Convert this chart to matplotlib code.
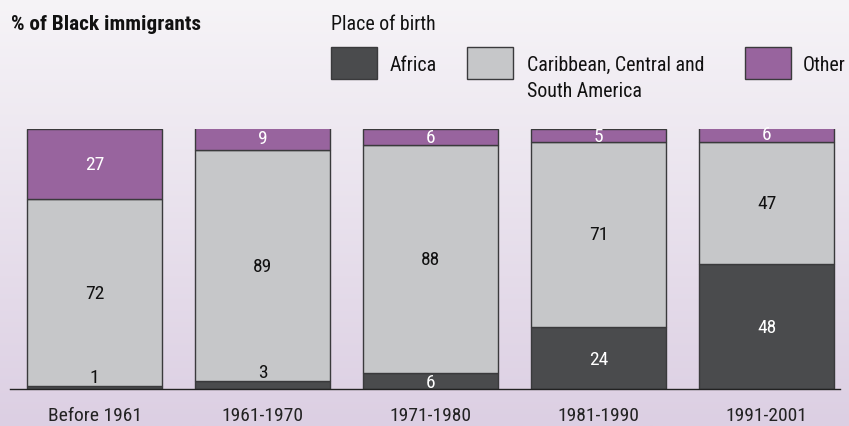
import matplotlib
matplotlib.use("Agg")
import matplotlib.pyplot as plt
import numpy as np
from matplotlib.patches import Rectangle

plt.rcParams['font.family'] = ['Roboto Condensed', 'Archivo Narrow', 'Liberation Sans Narrow', 'Roboto', 'DejaVu Sans']

categories = ["Before 1961", "1961-1970", "1971-1980", "1981-1990", "1991-2001"]
africa = [1, 3, 6, 24, 48]
caribbean = [72, 89, 88, 71, 47]
other = [27, 9, 6, 5, 6]
series_names = ["Africa", "Caribbean, Central and\nSouth America", "Other"]
colors = ["#4a4b4d", "#c6c7c9", "#98649e"]
edge = "#3a3a3c"

W, H = 849, 427
fig = plt.figure(figsize=(W / 100, H / 100), dpi=100)

# background gradient
bg = fig.add_axes([0, 0, 1, 1], zorder=-10)
top = np.array([246, 244, 247]) / 255
bot = np.array([220, 207, 227]) / 255
t = np.linspace(0, 1, 256)[:, None]
grad = top[None, :] * (1 - t) + bot[None, :] * t
bg.imshow(grad[:, None, :], aspect='auto', extent=[0, 1, 0, 1])
bg.set_axis_off()

# main axes: baseline at y=390 px, 100 units = 260 px
ax_left, ax_right = 10, 840
ax = fig.add_axes([ax_left / W, (H - 390) / H, (ax_right - ax_left) / W, 260 / H])
ax.patch.set_alpha(0)
x = np.arange(len(categories))
ax.set_xlim(-0.503, 4.437)
ax.set_ylim(0, 100)
bw = 0.80
ax.bar(x, africa, bw, color=colors[0], edgecolor=edge, linewidth=1)
ax.bar(x, caribbean, bw, bottom=africa, color=colors[1], edgecolor=edge, linewidth=1)
b2 = [a + c for a, c in zip(africa, caribbean)]
ax.bar(x, other, bw, bottom=b2, color=colors[2], edgecolor=edge, linewidth=1)

for s in ax.spines.values():
    s.set_visible(False)
ax.axhline(0, color="#222222", linewidth=1, clip_on=False)
ax.set_yticks([])
ax.set_xticks(x)
ax.set_xticklabels(categories, fontsize=14, color="#222222")
ax.tick_params(axis='x', length=0, pad=12)

fs = 14
for i in range(len(categories)):
    a, c, o = africa[i], caribbean[i], other[i]
    # Africa
    if a >= 5:
        ax.text(i, a / 2 - 0.3, str(a), ha='center', va='center', color='white', fontsize=fs)
    else:
        ax.text(i, a + 0.2, str(a), ha='center', va='bottom', color='#111111', fontsize=fs)
    # Caribbean
    ax.text(i, a + c / 2, str(c), ha='center', va='center', color='#111111', fontsize=fs)
    # Other
    ax.text(i, a + c + o / 2, str(o), ha='center', va='center', color='white', fontsize=fs)

# titles and legend
fig.text(11 / W, 1 - 25 / H, "% of Black immigrants", fontsize=15.3, fontweight='bold',
         ha='left', va='center', color='#111111')
fig.text(331 / W, 1 - 24 / H, "Place of birth", fontsize=14.3, ha='left', va='center', color='#111111')

legend_items = [(331, 390), (467, 527), (745, 803)]
for (sx, tx), col, name in zip(legend_items, colors, series_names):
    fig.patches.append(Rectangle((sx / W, 1 - 80 / H), 46 / W, 32 / H, transform=fig.transFigure,
                                 facecolor=col, edgecolor=edge, linewidth=1))
    fig.text(tx / W, 1 - 56 / H, name, fontsize=14.3, ha='left', va='top', color='#111111',
             linespacing=1.45)

fig.savefig("out.png", dpi=100)
